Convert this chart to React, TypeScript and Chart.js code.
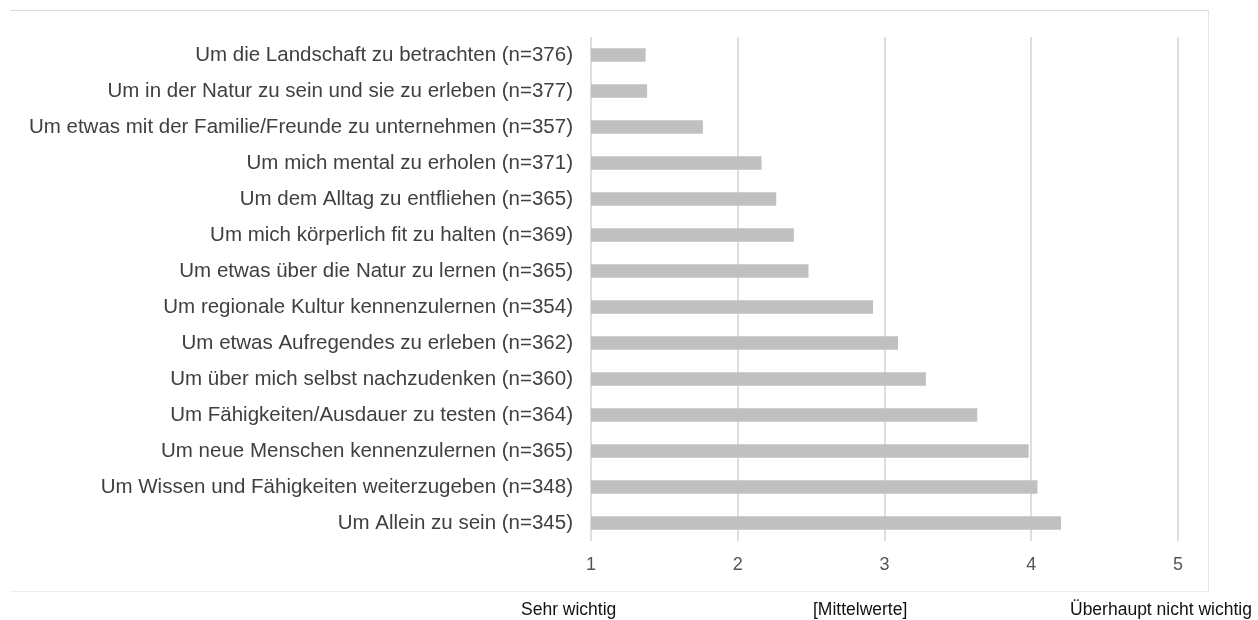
import React, { useEffect, useRef } from "react";
import { Chart, registerables } from "chart.js";

Chart.register(...registerables);

const categories: string[] = [
  "Um die Landschaft zu betrachten (n=376)",
  "Um in der Natur zu sein und sie zu erleben (n=377)",
  "Um etwas mit der Familie/Freunde zu unternehmen (n=357)",
  "Um mich mental zu erholen (n=371)",
  "Um dem Alltag zu entfliehen (n=365)",
  "Um mich körperlich fit zu halten (n=369)",
  "Um etwas über die Natur zu lernen (n=365)",
  "Um regionale Kultur kennenzulernen (n=354)",
  "Um etwas Aufregendes zu erleben (n=362)",
  "Um über mich selbst nachzudenken (n=360)",
  "Um Fähigkeiten/Ausdauer zu testen (n=364)",
  "Um neue Menschen kennenzulernen (n=365)",
  "Um Wissen und Fähigkeiten weiterzugeben (n=348)",
  "Um Allein zu sein (n=345)",
];

const meanValues: number[] = [
  1.37, 1.38, 1.76, 2.16, 2.26, 2.38, 2.48, 2.92, 3.09, 3.28, 3.63, 3.98, 4.04, 4.2,
];

const tickValues: number[] = [1, 2, 3, 4, 5];

const bottomLabels: string[] = ["Sehr wichtig", "[Mittelwerte]", "Überhaupt nicht wichtig"];

const FONT = "'Liberation Sans', Arial, Helvetica, sans-serif";

export default function App() {
  const canvasRef = useRef<HTMLCanvasElement | null>(null);

  useEffect(() => {
    if (!canvasRef.current) return;
    const chart = new Chart(canvasRef.current, {
      type: "bar",
      data: {
        labels: categories,
        datasets: [
          {
            data: meanValues,
            backgroundColor: "#c0c0c0",
            borderWidth: 0,
            barThickness: 13,
          },
        ],
      },
      options: {
        indexAxis: "y",
        animation: false,
        responsive: false,
        maintainAspectRatio: false,
        layout: { padding: { left: 0, right: 80, top: 37, bottom: 0 } },
        plugins: {
          legend: { display: false },
          tooltip: { enabled: false },
          title: { display: false },
        },
        scales: {
          x: {
            type: "linear",
            min: 1,
            max: 5,
            afterBuildTicks: (scale: any) => {
              scale.ticks = tickValues.map((v) => ({ value: v }));
            },
            afterFit: (scale: any) => {
              scale.height = 59;
            },
            ticks: {
              color: "#555555",
              font: { family: FONT, size: 18 },
              padding: 13,
            },
            grid: {
              color: "#dedede",
              lineWidth: 2,
              drawTicks: false,
            },
            border: { display: false },
          },
          y: {
            afterFit: (scale: any) => {
              scale.width = 591;
            },
            ticks: {
              color: "#404040",
              font: { family: FONT, size: 20.5 },
              padding: 18,
              autoSkip: false,
            },
            grid: { display: false, drawTicks: false },
            border: { display: false },
          },
        },
      },
    } as any);
    return () => chart.destroy();
  }, []);

  const bottomStyle: React.CSSProperties = {
    position: "absolute",
    top: 599,
    fontFamily: FONT,
    fontSize: 17.5,
    color: "#111",
    whiteSpace: "nowrap",
    lineHeight: "20px",
  };

  return (
    <div style={{ position: "absolute", left: 0, top: 0, width: 1258, height: 620, background: "#fff" }}>
      <div
        style={{
          position: "absolute",
          left: 10,
          top: 10,
          width: 1199,
          height: 582,
          borderTop: "1px solid #dcdcdc",
          borderRight: "1px solid #e6e6e6",
          borderBottom: "1px solid #eeeeee",
          boxSizing: "border-box",
        }}
      />
      <canvas
        ref={canvasRef}
        width={1258}
        height={600}
        style={{ position: "absolute", left: 0, top: 0, width: 1258, height: 600 }}
      />
      <div style={{ ...bottomStyle, left: 521 }}>{bottomLabels[0]}</div>
      <div style={{ ...bottomStyle, left: 813 }}>{bottomLabels[1]}</div>
      <div style={{ ...bottomStyle, left: 1070 }}>{bottomLabels[2]}</div>
    </div>
  );
}
